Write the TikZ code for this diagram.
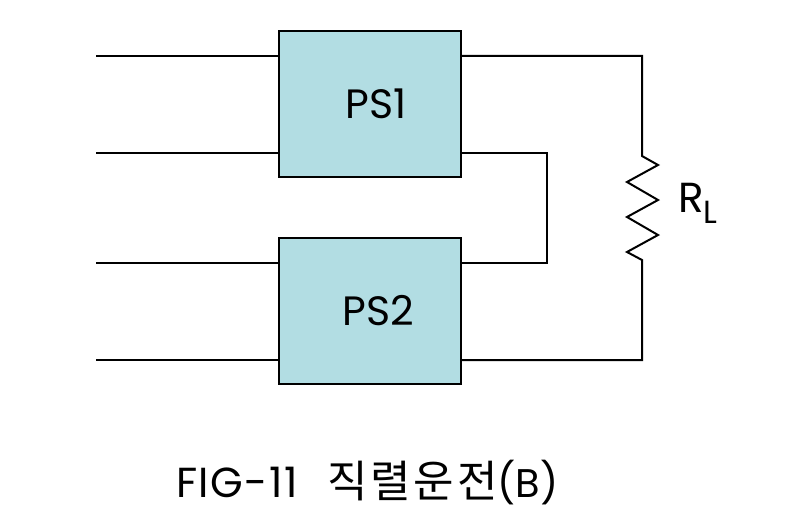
\documentclass[tikz,border=0pt]{standalone}
\usepackage{fontspec}
\setmainfont{Poppins}
\newfontfamily\cjk[LetterSpace=6]{Noto Sans CJK KR}
\begin{document}
\begin{tikzpicture}[x=1pt,y=-1pt,
  psbox/.style={draw=black,line width=2pt,fill=psfill,minimum width=182pt,minimum height=146pt,inner sep=0pt,font=\fontsize{41}{46}\selectfont},
  wire/.style={line width=2pt,line join=miter}]
\definecolor{psfill}{HTML}{B2DDE3}
\useasboundingbox (0,0) rectangle (800,532);
\node[psbox] (ps1) at (370,104) {\hspace*{12pt}PS1};
\node[psbox] (ps2) at (370,311) {\hspace*{16pt}PS2};
\coordinate (a1) at (96,56);
\coordinate (a2) at (96,153);
\coordinate (a3) at (96,263);
\coordinate (a4) at (96,360);
\coordinate (t1) at (642,56);
\coordinate (t2) at (642,360);
\coordinate (m1) at (547,153);
\coordinate (m2) at (547,263);
\coordinate (r1) at (642,156);
\coordinate (r2) at (642,260);
\draw[wire] (a1) -- (a1 -| ps1.west);
\draw[wire] (a2) -- (a2 -| ps1.west);
\draw[wire] (a3) -- (a3 -| ps2.west);
\draw[wire] (a4) -- (a4 -| ps2.west);
\draw[wire] (t1 -| ps1.east) -- (t1) -- (r1) -- (658,165) -- (627,182) -- (658,200) -- (627,217) -- (658,235) -- (627,252) -- (r2) -- (t2) -- (t2 -| ps2.east);
\draw[wire] (m1 -| ps1.east) -- (m1) -- (m2) -- (m2 -| ps2.east);
\node[anchor=west,inner sep=0pt,font=\fontsize{42}{46}\selectfont] (rl) at (678,203) {R\raisebox{-11pt}{\fontsize{32}{34}\selectfont L}};
\node[anchor=west,inner sep=0pt,font=\fontsize{42}{46}\selectfont] (cap) at (176,483) {{\addfontfeature{LetterSpace=3.5}FIG-11}\hspace{30pt}{\cjk\fontsize{44}{46}\selectfont 직렬운전}{\fontsize{40}{46}\selectfont (B)}};
\end{tikzpicture}
\end{document}
